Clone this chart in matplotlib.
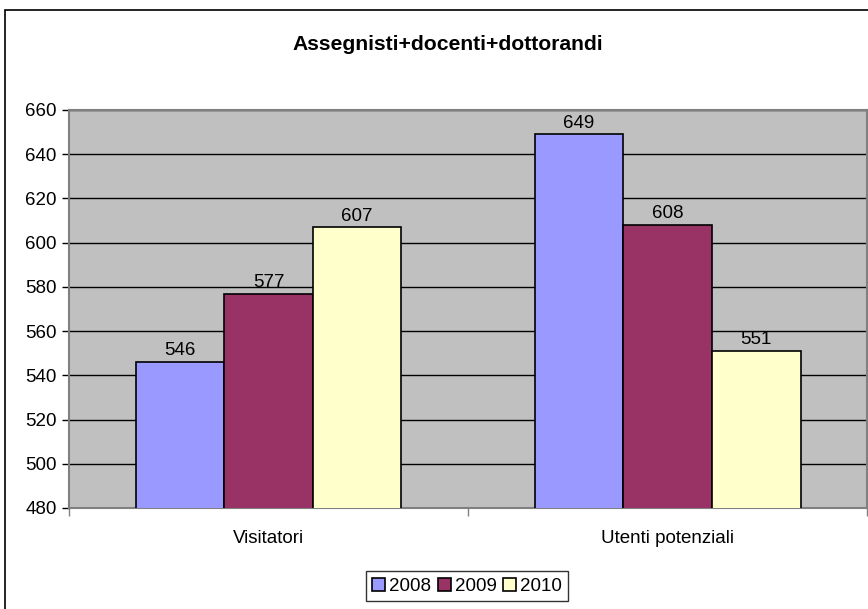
import numpy as np
import matplotlib.pyplot as plt
from matplotlib.patches import Rectangle

plt.rcParams['font.family'] = ['Liberation Sans', 'DejaVu Sans']

categories = ['Visitatori', 'Utenti potenziali']
years = ['2008', '2009', '2010']
values = {
    '2008': [546, 649],
    '2009': [577, 608],
    '2010': [607, 551],
}
colors = ['#9999FF', '#993366', '#FFFFCC']
yticks = [480, 500, 520, 540, 560, 580, 600, 620, 640, 660]

fs = 13.5

fig = plt.figure(figsize=(8.68, 6.09), dpi=100)
ax = fig.add_axes([69 / 868, 101 / 609, 798 / 868, 398 / 609])
ax.set_facecolor('#C0C0C0')

# outer chart frame
fig.patches.append(Rectangle((5 / 868, -0.05), 1.0, (609 - 10) / 609 + 0.05,
                             transform=fig.transFigure, fill=False,
                             edgecolor='black', linewidth=1.2, zorder=0))

x = np.arange(len(categories))
w = 2 / 9
for i, (yr, c) in enumerate(zip(years, colors)):
    bars = ax.bar(x + (i - 1) * w, values[yr], w, bottom=0, color=c,
                  edgecolor='black', linewidth=1.2, label=yr, zorder=3)
    for b, v in zip(bars, values[yr]):
        ax.text(b.get_x() + b.get_width() / 2, v + 1.2, str(v),
                ha='center', va='bottom', fontsize=fs, zorder=4)

ax.set_ylim(480, 660)
ax.set_xlim(-0.5, 1.5)
ax.set_yticks(yticks)
ax.yaxis.grid(True, color='black', linewidth=1)
ax.set_axisbelow(True)
ax.tick_params(axis='y', labelsize=fs, length=5, width=1, pad=4)

ax.set_xticks([-0.5, 0.5, 1.5])
ax.set_xticklabels([])
ax.set_xticks(x, minor=True)
ax.set_xticklabels(categories, minor=True)
ax.tick_params(axis='x', which='major', length=6, width=1, color='#808080')
ax.tick_params(axis='x', which='minor', length=0, labelsize=fs, pad=16)

for s in ax.spines.values():
    s.set_color('#808080')
    s.set_linewidth(1.5)

fig.text(448 / 868, 1 - 45 / 609, 'Assegnisti+docenti+dottorandi', ha='center',
         va='center', fontsize=15.2, fontweight='bold')

leg = fig.legend(loc='upper center', bbox_to_anchor=(467 / 868, 1 - 571 / 609),
                 ncol=3, fontsize=fs, frameon=True, fancybox=False,
                 handlelength=0.7, handleheight=0.7, handletextpad=0.2,
                 columnspacing=0.35, borderpad=0.35, borderaxespad=0)
leg.get_frame().set_edgecolor('black')
leg.get_frame().set_linewidth(1)

fig.savefig('out.png', dpi=100)
